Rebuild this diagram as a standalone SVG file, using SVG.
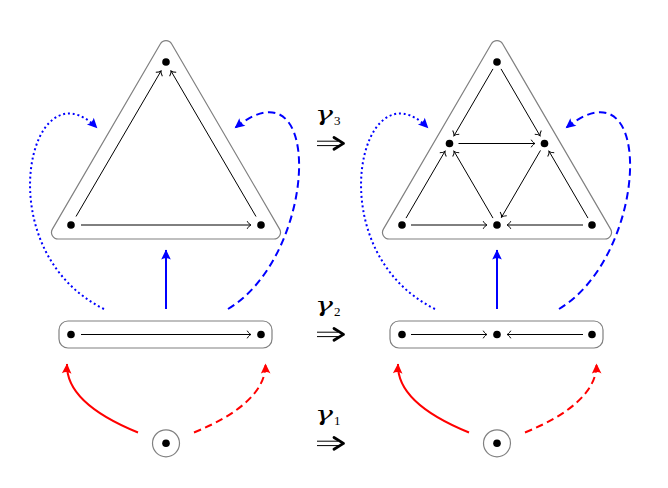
<svg xmlns="http://www.w3.org/2000/svg" width="668" height="488" viewBox="0 0 668 488">
<defs>
<style>
.frame{fill:none;stroke:#808080;stroke-width:1.2}
.dot{fill:#000}
.e{fill:none;stroke:#000;stroke-width:1;marker-end:url(#to)}
.b{fill:none;stroke:#0000ff;stroke-width:2;marker-end:url(#hb)}
.r{fill:none;stroke:#ff0000;stroke-width:2;marker-end:url(#hr)}
.dotted{stroke-dasharray:2 2.8}
.dashed{stroke-dasharray:7.5 4.5}
.imp{fill:none;stroke:#000}
.g{font-family:"DejaVu Serif","Liberation Serif",serif;font-style:italic;font-size:21px;fill:#000}
.s{font-family:"Liberation Serif","DejaVu Serif",serif;font-size:13px;fill:#000}
</style>
<marker id="to" viewBox="-5 -5 6 10" refX="0" refY="0" markerWidth="6" markerHeight="10" markerUnits="userSpaceOnUse" orient="auto">
<path d="M-3.8,-3.8 C-2.4,-1.4 -0.9,-0.3 0,0 C-0.9,0.3 -2.4,1.4 -3.8,3.8" fill="none" stroke="#000" stroke-width="1"/>
</marker>
<marker id="hb" viewBox="-11 -6 12 12" refX="0" refY="0" markerWidth="12" markerHeight="12" markerUnits="userSpaceOnUse" orient="auto">
<path d="M0.5,0 L-9.5,-4.8 Q-6.5,0 -9.5,4.8 Z" fill="#0000ff"/>
</marker>
<marker id="hr" viewBox="-11 -6 12 12" refX="0" refY="0" markerWidth="12" markerHeight="12" markerUnits="userSpaceOnUse" orient="auto">
<path d="M0.5,0 L-9.5,-4.8 Q-6.5,0 -9.5,4.8 Z" fill="#ff0000"/>
</marker>
<path id="triFrame" d="M160.29,43.99 A6.6,6.6 0 0 1 171.71,43.99 L279.59,229.08 A6.6,6.6 0 0 1 273.89,239 L58.11,239 A6.6,6.6 0 0 1 52.41,229.08 Z"/>
</defs>
<rect width="668" height="488" fill="#fff"/>

<g id="tri-left">
<use href="#triFrame" class="frame"/>
<circle class="dot" cx="166" cy="62" r="3.8"/>
<circle class="dot" cx="71" cy="225" r="3.8"/>
<circle class="dot" cx="261" cy="225" r="3.8"/>
</g>
<g id="bar-left">
<rect class="frame" x="59" y="321" width="213" height="27" rx="9"/>
<circle class="dot" cx="71" cy="334.5" r="3.8"/>
<circle class="dot" cx="261" cy="334.5" r="3.8"/>
</g>
<g id="pt-left">
<circle class="frame" cx="166" cy="443.3" r="13.5"/>
<circle class="dot" cx="166" cy="443.3" r="3.8"/>
</g>

<g id="tri-right">
<use href="#triFrame" class="frame" transform="translate(331,0)"/>
<circle class="dot" cx="497" cy="62" r="3.8"/>
<circle class="dot" cx="449.5" cy="143.5" r="3.8"/>
<circle class="dot" cx="544.5" cy="143.5" r="3.8"/>
<circle class="dot" cx="402" cy="225" r="3.8"/>
<circle class="dot" cx="497" cy="225" r="3.8"/>
<circle class="dot" cx="592" cy="225" r="3.8"/>
</g>
<g id="bar-right">
<rect class="frame" x="390" y="321" width="213" height="27" rx="9"/>
<circle class="dot" cx="402" cy="334.5" r="3.8"/>
<circle class="dot" cx="497" cy="334.5" r="3.8"/>
<circle class="dot" cx="592" cy="334.5" r="3.8"/>
</g>
<g id="pt-right">
<circle class="frame" cx="497" cy="443.3" r="13.5"/>
<circle class="dot" cx="497" cy="443.3" r="3.8"/>
</g>

<g id="connectors">
<path class="e" d="M76,216.5 L161,71"/>
<path class="e" d="M256,216.5 L171,71"/>
<path class="e" d="M81,225 L251,225"/>
<path class="e" d="M81,334.5 L251,334.5"/>
<path class="e" d="M492.97,68.9 L454.03,135.72"/>
<path class="e" d="M501.03,68.9 L539.97,135.72"/>
<path class="e" d="M458.5,143.5 L535,143.5"/>
<path class="e" d="M540.47,150.41 L501.53,217.22"/>
<path class="e" d="M406.03,218.09 L444.97,151.28"/>
<path class="e" d="M492.97,218.09 L454.03,151.28"/>
<path class="e" d="M587.97,218.09 L549.03,151.28"/>
<path class="e" d="M411,225 L487,225"/>
<path class="e" d="M583,225 L507,225"/>
<path class="e" d="M411,334.5 L487,334.5"/>
<path class="e" d="M583,334.5 L507,334.5"/>

<path class="b" d="M166,309 L166,250"/>
<path class="b dotted" d="M104,309 C-15,250 30,60 97,128"/>
<path class="b dashed" d="M228,309 C318,255 325,55 235,128"/>
<path class="b" d="M497,309 L497,250"/>
<path class="b dotted" d="M435,309 C316,250 361,60 428,128"/>
<path class="b dashed" d="M559,309 C649,255 656,55 566,128"/>

<path class="r" d="M138,432.5 C95,415 66,392 67,364"/>
<path class="r dashed" d="M194,432.5 C237,415 266,392 265.5,364"/>
<path class="r" d="M469,432.5 C426,415 397,392 398,364"/>
<path class="r dashed" d="M525,432.5 C568,415 597,392 596.5,364"/>
</g>

<g id="labels">
<text class="g" x="315" y="120.5" textLength="18" lengthAdjust="spacingAndGlyphs">γ</text><text class="s" x="334" y="124.7">3</text>
<path class="imp" stroke-width="1" d="M317,141.2 H338 M317,145.6 H338"/>
<path class="imp" stroke-width="2.8" stroke-linecap="round" stroke-linejoin="round" d="M334,137.5 L343.5,143.4 L334,149.3"/>

<text class="g" x="315" y="311.5" textLength="18" lengthAdjust="spacingAndGlyphs">γ</text><text class="s" x="334" y="315.7">2</text>
<path class="imp" stroke-width="1" d="M317,332.2 H338 M317,336.6 H338"/>
<path class="imp" stroke-width="2.8" stroke-linecap="round" stroke-linejoin="round" d="M334,328.5 L343.5,334.4 L334,340.3"/>

<text class="g" x="315" y="420.5" textLength="18" lengthAdjust="spacingAndGlyphs">γ</text><text class="s" x="334" y="424.7">1</text>
<path class="imp" stroke-width="1" d="M317,441.2 H338 M317,445.6 H338"/>
<path class="imp" stroke-width="2.8" stroke-linecap="round" stroke-linejoin="round" d="M334,437.5 L343.5,443.4 L334,449.3"/>
</g>
</svg>
